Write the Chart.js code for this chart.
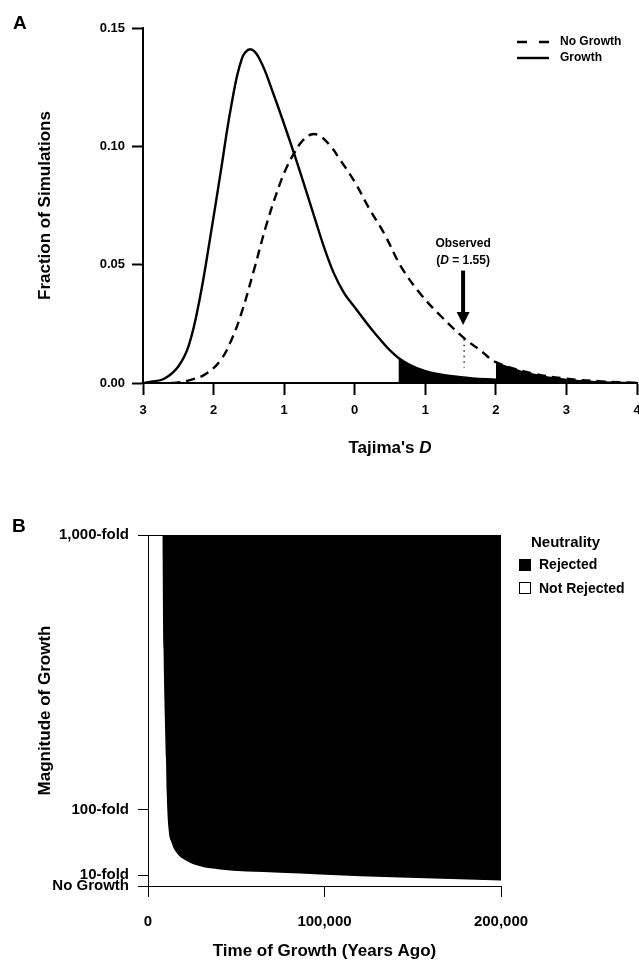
<!DOCTYPE html>
<html>
<head>
<meta charset="utf-8">
<script src="https://cdn.jsdelivr.net/npm/chart.js@4.4.1/dist/chart.umd.min.js"></script>
<style>
  html, body { margin: 0; padding: 0; background: #fff; }
  #wrap { position: relative; width: 639px; height: 962px; }
  #panelA { position: absolute; left: 0; top: 0; }
  #panelB { position: absolute; left: 0; top: 470px; }
</style>
</head>
<body>
<div id="wrap">
  <canvas id="panelA" width="639" height="470"></canvas>
  <canvas id="panelB" width="639" height="492"></canvas>
</div>
<script>
// Panel A - distribution of Tajima's D in the simulations
const growthD    = [-3.0, -2.9, -2.7, -2.5, -2.35, -2.2, -2.05, -1.9, -1.75, -1.6, -1.48, -1.35, -1.15, -0.86, -0.57, -0.43, -0.29, -0.15, 0.0, 0.3, 0.62, 1.0, 1.5, 2.0, 2.5, 3.0, 3.5, 4.0];
const growthFrac = [0, 0.0005, 0.0018, 0.007, 0.016, 0.035, 0.061, 0.089, 0.117, 0.137, 0.141, 0.137, 0.122, 0.097, 0.070, 0.057, 0.046, 0.038, 0.032, 0.0205, 0.0106, 0.005, 0.0025, 0.0014, 0.0007, 0.0003, 0.0001, 0];
const noGrowthD    = [-2.6, -2.5, -2.3, -2.1, -1.9, -1.75, -1.6, -1.43, -1.24, -1.05, -0.95, -0.86, -0.75, -0.62, -0.5, -0.34, -0.2, 0.0, 0.2, 0.42, 0.66, 0.95, 1.23, 1.55, 1.8, 2.0, 2.5, 3.0, 3.5, 4.0];
const noGrowthFrac = [0, 0.0002, 0.0015, 0.004, 0.0097, 0.018, 0.03, 0.0475, 0.068, 0.085, 0.092, 0.097, 0.102, 0.105, 0.1045, 0.100, 0.094, 0.085, 0.074, 0.063, 0.049, 0.037, 0.028, 0.019, 0.0133, 0.0088, 0.0042, 0.0018, 0.0007, 0];

// 5% rejection tails (shaded black)
const growthTailD    = [0.62, 1.0, 1.5, 2.0, 2.5, 3.0, 3.5, 4.0];
const growthTailFrac = [0.0106, 0.005, 0.0025, 0.0014, 0.0007, 0.0003, 0.0001, 0];
const noGrowthTailD    = [2.0, 2.5, 3.0, 3.5, 4.0];
const noGrowthTailFrac = [0.0088, 0.0042, 0.0018, 0.0007, 0];

// observed value and its marker
const observedD = 1.55;
const observedLineFrac = [0.0185, 0.0065];
const arrowFrac = [0.0475, 0.0245];

// Panel B - region where neutrality is rejected
const growthYears    = [8100, 8800, 10200, 10600, 11500, 13400, 16300, 21900, 29500, 40800, 55900, 74800, 97500, 142800, 200000];
const boundaryLevel  = [100, 67.3, 36.0, 26.6, 17.0, 12.3, 9.4, 7.1, 5.6, 4.7, 4.1, 3.8, 3.3, 2.4, 1.6];
const magnitudeTicks  = [0, 3.1, 21.8, 100];
const magnitudeLabels = ['No Growth', '10-fold', '100-fold', '1,000-fold'];
const yearTicks = [0, 100000, 200000];

const FAMILY = "'Liberation Sans', Arial, Helvetica, sans-serif";
Chart.defaults.font.family = FAMILY;
Chart.defaults.color = '#000';

function toXY(xs, ys) {
    return xs.map((x, i) => ({ x: x, y: ys[i] }));
}

// extra drawing for panel A: letter, legend, arrow, x title
const panelADecor = {
    id: 'panelADecor',
    afterDraw(chart) {
        const ctx = chart.ctx;
        const xs = chart.scales.x;
        const ys = chart.scales.y;
        const area = chart.chartArea;
        ctx.save();
        ctx.fillStyle = '#000';
        ctx.strokeStyle = '#000';

        ctx.font = 'bold 19px ' + FAMILY;
        ctx.textAlign = 'left';
        ctx.textBaseline = 'alphabetic';
        ctx.fillText('A', 13, 29);

        // legend
        ctx.lineWidth = 2.4;
        ctx.setLineDash([10, 12]);
        ctx.beginPath(); ctx.moveTo(517, 42); ctx.lineTo(549, 42); ctx.stroke();
        ctx.setLineDash([]);
        ctx.beginPath(); ctx.moveTo(517, 58); ctx.lineTo(549, 58); ctx.stroke();
        ctx.font = 'bold 12px ' + FAMILY;
        ctx.textBaseline = 'middle';
        ctx.fillText('No Growth', 560, 42);
        ctx.fillText('Growth', 560, 58);

        // arrow to the observed value
        const ax = xs.getPixelForValue(observedD) - 1;
        const aTop = ys.getPixelForValue(arrowFrac[0]);
        const aTip = ys.getPixelForValue(arrowFrac[1]);
        ctx.fillRect(ax - 2, aTop, 4, aTip - aTop - 10);
        ctx.beginPath();
        ctx.moveTo(ax - 6.5, aTip - 13);
        ctx.lineTo(ax + 6.5, aTip - 13);
        ctx.lineTo(ax, aTip);
        ctx.closePath();
        ctx.fill();

        ctx.textAlign = 'center';
        ctx.font = 'bold 12px ' + FAMILY;
        ctx.fillText('Observed', ax, aTop - 27);
        const parts = [['(', 'bold '], ['D', 'italic bold '], [' = 1.55)', 'bold ']];
        let total = 0;
        parts.forEach(p => { ctx.font = p[1] + '12px ' + FAMILY; total += ctx.measureText(p[0]).width; });
        let cx = ax - total / 2;
        ctx.textAlign = 'left';
        parts.forEach(p => {
            ctx.font = p[1] + '12px ' + FAMILY;
            ctx.fillText(p[0], cx, aTop - 10);
            cx += ctx.measureText(p[0]).width;
        });

        // x axis title with italic D
        const tParts = [["Tajima's ", 'bold '], ['D', 'italic bold ']];
        total = 0;
        tParts.forEach(p => { ctx.font = p[1] + '17px ' + FAMILY; total += ctx.measureText(p[0]).width; });
        cx = (area.left + area.right) / 2 - total / 2;
        tParts.forEach(p => {
            ctx.font = p[1] + '17px ' + FAMILY;
            ctx.fillText(p[0], cx, 448);
            cx += ctx.measureText(p[0]).width;
        });
        ctx.restore();
    }
};

new Chart(document.getElementById('panelA'), {
    type: 'line',
    data: {
        datasets: [
            {
                label: 'No Growth',
                data: toXY(noGrowthD, noGrowthFrac),
                borderColor: '#000',
                borderWidth: 2.4,
                borderDash: [9, 6],
                pointRadius: 0,
                fill: false,
                tension: 0.4
            },
            {
                label: 'Growth',
                data: toXY(growthD, growthFrac),
                borderColor: '#000',
                borderWidth: 2.4,
                pointRadius: 0,
                fill: false,
                tension: 0.4
            },
            {
                label: 'Observed',
                data: observedLineFrac.map(v => ({ x: observedD, y: v })),
                borderColor: '#000',
                borderWidth: 1.2,
                borderDash: [1.5, 4],
                pointRadius: 0,
                fill: false
            },
            {
                label: 'Growth tail',
                data: toXY(growthTailD, growthTailFrac),
                borderWidth: 0,
                backgroundColor: '#000',
                pointRadius: 0,
                fill: 'origin',
                tension: 0.4
            },
            {
                label: 'No Growth tail',
                data: toXY(noGrowthTailD, noGrowthTailFrac),
                borderWidth: 0,
                backgroundColor: '#000',
                pointRadius: 0,
                fill: 'origin',
                tension: 0.4
            }
        ]
    },
    options: {
        responsive: false,
        animation: false,
        layout: { padding: { left: 35, top: 28, right: 2, bottom: 12 } },
        plugins: {
            legend: { display: false },
            tooltip: { enabled: false }
        },
        scales: {
            x: {
                type: 'linear',
                min: -3,
                max: 4,
                ticks: {
                    stepSize: 1,
                    padding: 8,
                    maxRotation: 0,
                    font: { size: 13, weight: 'bold' },
                    callback: v => String(Math.abs(v))
                },
                grid: { drawOnChartArea: false, tickLength: 12, tickWidth: 2, tickColor: '#000' },
                border: { color: '#000', width: 2 },
                afterFit: s => { s.height = 75; s.paddingLeft = 0; s.paddingRight = 0; }
            },
            y: {
                min: 0,
                max: 0.15,
                ticks: {
                    stepSize: 0.05,
                    padding: 7,
                    font: { size: 13, weight: 'bold' },
                    callback: v => v.toFixed(2)
                },
                grid: { drawOnChartArea: false, tickLength: 11, tickWidth: 2, tickColor: '#000' },
                border: { color: '#000', width: 2 },
                title: {
                    display: true,
                    text: 'Fraction of Simulations',
                    font: { size: 17, weight: 'bold' },
                    padding: 0
                },
                afterFit: s => { s.width = 108; }
            }
        }
    },
    plugins: [panelADecor]
});

// extra drawing for panel B: letter, legend, top border
const panelBDecor = {
    id: 'panelBDecor',
    afterDraw(chart) {
        const ctx = chart.ctx;
        const area = chart.chartArea;
        ctx.save();
        ctx.fillStyle = '#000';
        ctx.strokeStyle = '#000';

        ctx.font = 'bold 19px ' + FAMILY;
        ctx.textBaseline = 'alphabetic';
        ctx.fillText('B', 12, 62);

        ctx.lineWidth = 1;
        ctx.beginPath();
        ctx.moveTo(area.left, area.top + 0.5);
        ctx.lineTo(area.right, area.top + 0.5);
        ctx.stroke();

        ctx.textBaseline = 'middle';
        ctx.font = 'bold 15px ' + FAMILY;
        ctx.fillText('Neutrality', 531, 73);
        ctx.font = 'bold 14px ' + FAMILY;
        ctx.fillRect(519, 89, 12, 12);
        ctx.fillText('Rejected', 539, 95);
        ctx.strokeRect(519.5, 112.5, 11, 11);
        ctx.fillText('Not Rejected', 539, 119);
        ctx.restore();
    }
};

new Chart(document.getElementById('panelB'), {
    type: 'line',
    data: {
        datasets: [
            {
                label: 'Rejected',
                data: toXY(growthYears, boundaryLevel),
                borderWidth: 0,
                backgroundColor: '#000',
                pointRadius: 0,
                fill: 'end',
                cubicInterpolationMode: 'monotone'
            }
        ]
    },
    options: {
        responsive: false,
        animation: false,
        layout: { padding: { left: 35, top: 65, right: 138, bottom: 0 } },
        plugins: {
            legend: { display: false },
            tooltip: { enabled: false }
        },
        scales: {
            x: {
                type: 'linear',
                min: 0,
                max: 200000,
                afterBuildTicks: s => { s.ticks = yearTicks.map(v => ({ value: v })); },
                ticks: {
                    padding: 16,
                    maxRotation: 0,
                    autoSkip: false,
                    font: { size: 15, weight: 'bold' },
                    callback: v => v.toLocaleString('en-US')
                },
                grid: { drawOnChartArea: false, tickLength: 11, tickWidth: 1, tickColor: '#000' },
                border: { color: '#000', width: 1 },
                title: {
                    display: true,
                    text: 'Time of Growth (Years Ago)',
                    font: { size: 17, weight: 'bold' },
                    padding: 0
                },
                afterFit: s => { s.height = 76; s.paddingLeft = 0; s.paddingRight = 0; }
            },
            y: {
                min: 0,
                max: 100,
                afterBuildTicks: s => { s.ticks = magnitudeTicks.map(v => ({ value: v })); },
                ticks: {
                    padding: 9,
                    autoSkip: false,
                    font: { size: 15, weight: 'bold' },
                    callback: v => magnitudeLabels[magnitudeTicks.indexOf(v)]
                },
                grid: { drawOnChartArea: false, tickLength: 10, tickWidth: 1, tickColor: '#000' },
                border: { color: '#000', width: 1 },
                title: {
                    display: true,
                    text: 'Magnitude of Growth',
                    font: { size: 17, weight: 'bold' },
                    padding: 0
                },
                afterFit: s => { s.width = 113; s.paddingTop = 0; s.paddingBottom = 0; }
            }
        }
    },
    plugins: [panelBDecor]
});
</script>
</body>
</html>
